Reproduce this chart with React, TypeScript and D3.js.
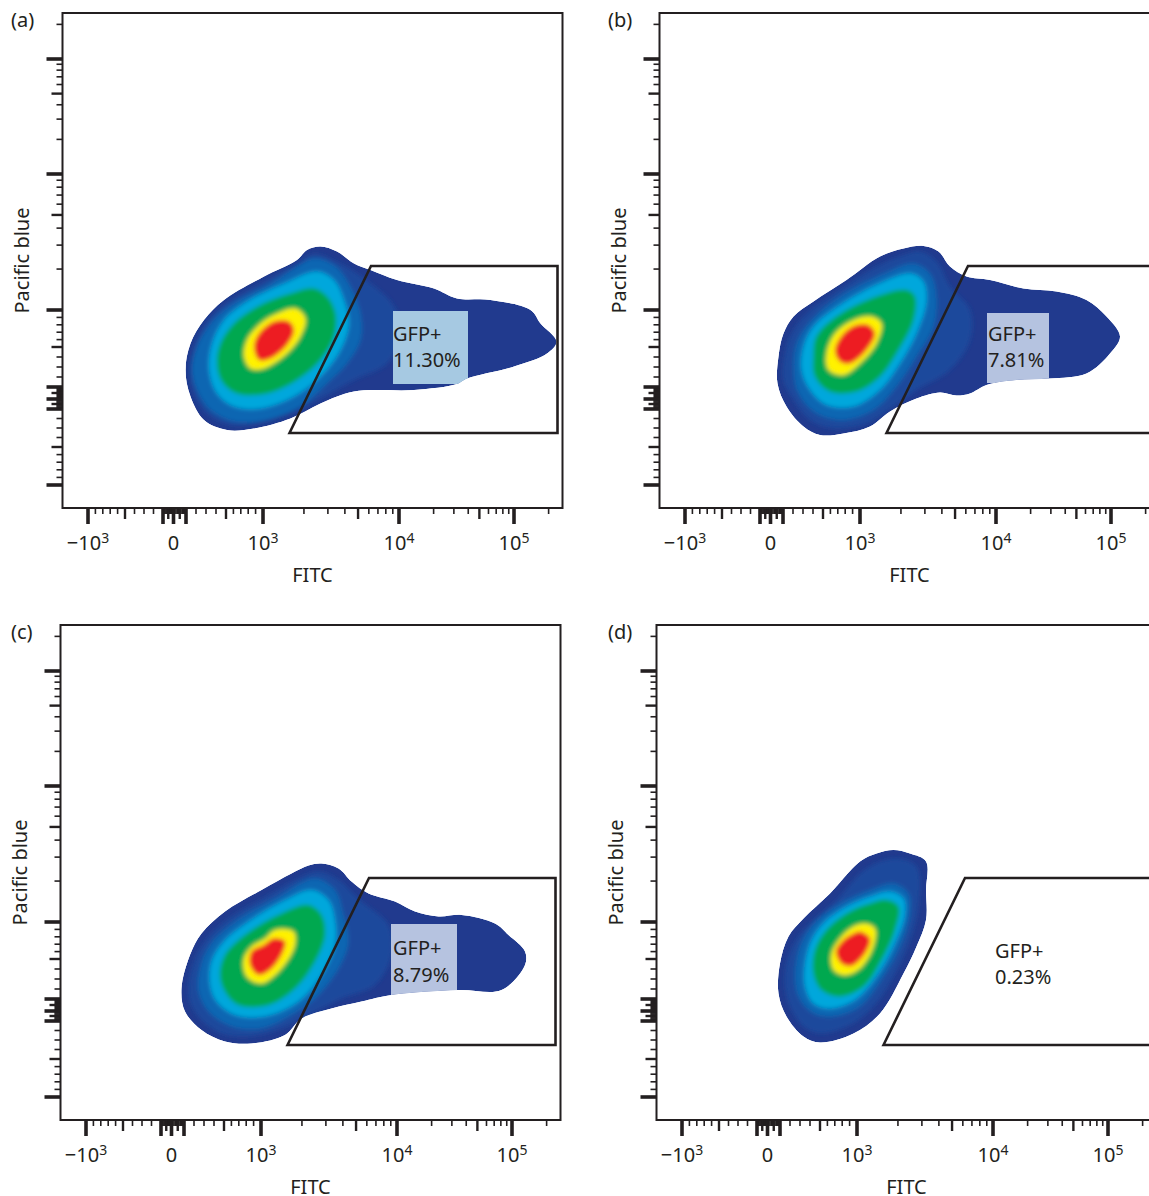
import React, { useEffect, useRef } from 'react';
import * as d3 from 'd3';

type Pt = [number, number];

// Axis ticks, in fluorescence units (same biexponential layout on both axes)
const majorTicks = [-1000, -100, 0, 100, 1000, 10000, 100000];
const mediumTicks = [-500, -50, 50, 500, 5000, 50000];
const minorTicks = [
  -900, -800, -700, -600, -400, -300, -200, -90, -80, -70, -60, -40, -30, -20, -10,
  10, 20, 30, 40, 60, 70, 80, 90, 200, 300, 400, 600, 700, 800, 900,
  2000, 3000, 4000, 6000, 7000, 8000, 9000,
  20000, 30000, 40000, 60000, 70000, 80000, 90000, 200000,
];
const xTickLabels: [number, string, string][] = [
  [-1000, '\u221210', '3'],
  [0, '0', ''],
  [1000, '10', '3'],
  [10000, '10', '4'],
  [100000, '10', '5'],
];

// Where the decades fall on the instrument's display channels (0-1000)
const linearAnchors = [-1000, -500, -100, 0, 100, 500, 1000];
const decadeAnchors = [1000, 10000, 100000];
const xAnchorChannels = [51, 125, 201, 222, 247, 327, 401, 673, 903];
const yAnchorChannels = [46, 122, 198, 218, 242, 322, 396, 668, 898];

// Gate drawn on every plot, display channels
const gate: Pt[] = [[454, 150], [617, 484], [990, 484], [990, 150]];

// Density contours, display channels, outermost first
const aShell: Pt[] = [[516, 523], [549, 513], [583, 489], [616, 476], [669, 456], [743, 439], [789, 419], [856, 416], [936, 396], [956, 369], [988, 333], [969, 309], [903, 283], [809, 259], [789, 248], [703, 236], [583, 233], [516, 209], [456, 179], [383, 159], [329, 156], [283, 176], [256, 223], [246, 276], [256, 329], [283, 376], [323, 416], [403, 463], [469, 496], [489, 516]];
const aHalo: Pt[] = [[503, 508], [556, 489], [616, 449], [663, 403], [676, 343], [649, 289], [583, 256], [516, 219], [456, 189], [389, 169], [336, 166], [289, 189], [263, 229], [254, 276], [264, 326], [289, 373], [329, 411], [409, 456], [469, 489]];
const aBlue: Pt[] = [[503, 499], [543, 486], [576, 443], [596, 389], [596, 336], [569, 289], [529, 249], [476, 203], [409, 176], [343, 173], [296, 196], [269, 236], [259, 276], [269, 323], [296, 369], [336, 406], [416, 449], [469, 483]];
const aCyan: Pt[] = [[509, 473], [543, 456], [563, 416], [573, 369], [556, 316], [516, 263], [463, 223], [396, 199], [343, 203], [309, 229], [293, 276], [299, 329], [323, 376], [369, 413], [443, 449]];
const aGreen: Pt[] = [[503, 439], [529, 423], [546, 389], [543, 343], [516, 296], [469, 256], [409, 229], [349, 229], [319, 253], [309, 289], [316, 329], [343, 369], [396, 406], [456, 429]];
const aYellow: Pt[] = [[466, 399], [486, 379], [476, 343], [449, 309], [403, 279], [376, 279], [363, 303], [369, 336], [396, 369], [429, 389]];
const aRed: Pt[] = [[453, 373], [463, 356], [449, 326], [416, 299], [393, 296], [383, 323], [393, 349], [423, 373]];

const bShell: Pt[] = [[528, 524], [558, 513], [581, 483], [614, 463], [661, 456], [728, 439], [794, 433], [854, 416], [894, 383], [921, 343], [901, 309], [854, 269], [781, 259], [714, 256], [654, 246], [621, 229], [594, 225], [561, 231], [514, 219], [461, 193], [421, 163], [368, 149], [321, 146], [288, 163], [254, 203], [236, 249], [238, 303], [248, 349], [268, 383], [308, 413], [374, 456], [441, 503], [488, 519]];
const bHalo: Pt[] = [[521, 513], [554, 493], [581, 443], [621, 396], [621, 336], [581, 276], [514, 236], [468, 203], [414, 169], [348, 159], [301, 176], [268, 216], [248, 256], [251, 309], [264, 349], [294, 389], [354, 433], [434, 483], [488, 506]];
const bBlue: Pt[] = [[508, 489], [541, 469], [554, 423], [548, 363], [514, 303], [474, 243], [428, 196], [368, 176], [314, 189], [278, 229], [268, 276], [274, 329], [298, 369], [354, 419], [448, 469]];
const bCyan: Pt[] = [[504, 469], [528, 453], [534, 413], [514, 349], [481, 289], [441, 236], [388, 203], [334, 206], [301, 236], [284, 276], [288, 323], [308, 363], [361, 406], [448, 453]];
const bGreen: Pt[] = [[494, 436], [511, 423], [508, 376], [478, 316], [441, 263], [394, 233], [341, 233], [311, 263], [308, 303], [314, 343], [354, 383], [434, 423]];
const bYellow: Pt[] = [[424, 383], [444, 369], [434, 329], [401, 289], [368, 266], [338, 276], [334, 309], [351, 349], [388, 376]];
const bRed: Pt[] = [[418, 366], [431, 349], [414, 316], [381, 289], [361, 293], [351, 316], [368, 349], [394, 366]];

const cShell: Pt[] = [[522, 513], [556, 503], [582, 477], [616, 453], [669, 437], [709, 417], [756, 407], [802, 410], [869, 393], [896, 370], [929, 337], [929, 310], [882, 260], [796, 260], [662, 250], [602, 237], [542, 223], [482, 203], [449, 170], [382, 153], [329, 157], [282, 180], [249, 217], [242, 263], [259, 330], [282, 373], [329, 417], [402, 460], [462, 493], [496, 509]];
const cHalo: Pt[] = [[516, 497], [556, 480], [602, 437], [656, 390], [662, 330], [629, 270], [562, 243], [502, 213], [442, 183], [376, 167], [322, 173], [279, 203], [259, 237], [256, 270], [269, 323], [296, 367], [342, 407], [416, 450], [469, 480]];
const cBlue: Pt[] = [[509, 483], [549, 460], [566, 410], [576, 357], [556, 303], [509, 243], [462, 210], [402, 183], [342, 187], [296, 217], [276, 257], [279, 303], [299, 350], [349, 397], [429, 443]];
const cCyan: Pt[] = [[502, 460], [536, 440], [549, 400], [549, 350], [522, 290], [476, 237], [409, 207], [349, 210], [312, 237], [299, 270], [302, 317], [329, 360], [376, 397], [449, 440]];
const cGreen: Pt[] = [[496, 430], [522, 410], [529, 370], [509, 317], [469, 263], [416, 230], [356, 230], [329, 257], [319, 290], [329, 330], [369, 370], [442, 413]];
const cYellow: Pt[] = [[429, 380], [466, 377], [469, 350], [442, 303], [402, 273], [372, 287], [366, 320], [382, 347], [409, 363]];
const cRed: Pt[] = [[426, 363], [449, 357], [442, 330], [419, 300], [396, 290], [379, 310], [382, 337], [406, 350]];

const dShell: Pt[] = [[474, 540], [507, 533], [539, 517], [539, 460], [539, 400], [520, 347], [494, 293], [447, 213], [394, 173], [327, 155], [294, 167], [260, 207], [244, 253], [247, 313], [264, 367], [294, 403], [347, 453], [407, 517], [440, 533]];
const dHalo: Pt[] = [[477, 523], [520, 507], [524, 427], [507, 360], [474, 287], [434, 227], [387, 190], [327, 173], [294, 187], [267, 227], [257, 267], [260, 313], [277, 357], [307, 393], [360, 440], [420, 503]];
const dBlue: Pt[] = [[474, 473], [504, 453], [507, 413], [490, 353], [454, 287], [407, 227], [354, 207], [314, 213], [284, 247], [277, 293], [287, 347], [314, 393], [367, 433], [427, 460]];
const dCyan: Pt[] = [[467, 457], [494, 443], [497, 410], [477, 353], [440, 287], [397, 240], [347, 223], [314, 233], [297, 267], [297, 313], [310, 360], [337, 397], [380, 427], [427, 447]];
const dGreen: Pt[] = [[460, 440], [484, 427], [477, 380], [450, 320], [414, 267], [367, 247], [330, 260], [314, 293], [317, 340], [340, 380], [387, 417], [427, 433]];
const dYellow: Pt[] = [[417, 393], [437, 383], [434, 347], [407, 303], [377, 290], [354, 300], [350, 333], [370, 367], [394, 387]];
const dRed: Pt[] = [[407, 377], [427, 363], [417, 333], [390, 308], [370, 313], [359, 337], [374, 360], [394, 373]];

// One colour per contour level, low density to high
const levelColors = ['#213a8e', '#1c4a9c', '#0b66b2', '#02a7dc', '#00a84f', '#fff200', '#ed1c24'];

const panels = [
  { letter: '(a)', left: 62.5, top: 13, contours: [aShell, aHalo, aBlue, aCyan, aGreen, aYellow, aRed], gatePct: '11.30%', boxColor: '#a6c9e2', box: [661, 811, 248, 394], textX: 661, textY: [334, 282] },
  { letter: '(b)', left: 659.5, top: 13, contours: [bShell, bHalo, bBlue, bCyan, bGreen, bYellow, bRed], gatePct: '7.81%', boxColor: '#b5c3e0', box: [655, 779, 250, 390], textX: 657, textY: [334, 282] },
  { letter: '(c)', left: 60.5, top: 625, contours: [cShell, cHalo, cBlue, cCyan, cGreen, cYellow, cRed], gatePct: '8.79%', boxColor: '#b6c3e0', box: [661, 793, 250, 392], textX: 665, textY: [330, 276] },
  { letter: '(d)', left: 656.5, top: 625, contours: [dShell, dHalo, dBlue, dCyan, dGreen, dYellow, dRed], gatePct: '0.23%', boxColor: null, box: null, textX: 677, textY: [324, 272] },
];

const width = 1149;
const height = 1196;
const plotWidth = 500;
const plotHeight = 495;
const ink = '#231f20';
const fontFamily = '"Noto Sans", sans-serif';
const fontSize = 20;

// Linear around zero, log above 10^3
function biexponential(channels: number[]) {
  const lin = d3.scaleLinear().domain(linearAnchors).range(channels.slice(0, 7));
  const log = d3.scaleLog().domain(decadeAnchors).range(channels.slice(6));
  return (v: number) => (v <= 1000 ? lin(v) : log(v));
}

function App() {
  const ref = useRef<SVGSVGElement>(null);

  useEffect(() => {
    const svg = d3.select(ref.current);
    svg.selectAll('*').remove();

    const xChannel = d3.scaleLinear().domain([0, 1000]).range([0, plotWidth]);
    const yChannel = d3.scaleLinear().domain([0, 990]).range([plotHeight, 0]);
    const xValue = biexponential(xAnchorChannels);
    const yValue = biexponential(yAnchorChannels);

    const contour = d3
      .line<Pt>()
      .x((d) => xChannel(d[0]))
      .y((d) => yChannel(d[1]))
      .curve(d3.curveCatmullRomClosed.alpha(0.5));

    const defs = svg.append('defs');
    defs
      .append('filter')
      .attr('id', 'soften')
      .attr('x', '-10%')
      .attr('y', '-10%')
      .attr('width', '120%')
      .attr('height', '120%')
      .append('feGaussianBlur')
      .attr('stdDeviation', 2.2);

    const tickStyles = [
      { values: minorTicks, length: 6, thick: 1.6 },
      { values: mediumTicks, length: 11, thick: 2.4 },
      { values: majorTicks, length: 16, thick: 3.6 },
    ];

    panels.forEach((p, i) => {
      const g = svg.append('g').attr('transform', `translate(${p.left},${p.top})`);

      // density
      const clipId = `outline-${i}`;
      defs.append('clipPath').attr('id', clipId).append('path').attr('d', contour(p.contours[0]));
      const density = g.append('g').attr('clip-path', `url(#${clipId})`);
      density.append('path').attr('d', contour(p.contours[0])).attr('fill', levelColors[0]);
      density
        .append('g')
        .attr('filter', 'url(#soften)')
        .selectAll('path')
        .data(p.contours.slice(1))
        .enter()
        .append('path')
        .attr('d', (d) => contour(d))
        .attr('fill', (_, k) => levelColors[k + 1]);

      // label box only shows where it overlaps the density
      if (p.box) {
        density
          .append('rect')
          .attr('x', xChannel(p.box[0]))
          .attr('width', xChannel(p.box[1]) - xChannel(p.box[0]))
          .attr('y', yChannel(p.box[3]))
          .attr('height', yChannel(p.box[2]) - yChannel(p.box[3]))
          .attr('fill', p.boxColor);
      }

      // gate
      g.append('polygon')
        .attr('points', gate.map((d) => `${xChannel(d[0])},${yChannel(d[1])}`).join(' '))
        .attr('fill', 'none')
        .attr('stroke', ink)
        .attr('stroke-width', 2.6)
        .attr('stroke-linejoin', 'miter');

      // frame
      g.append('rect')
        .attr('width', plotWidth)
        .attr('height', plotHeight)
        .attr('fill', 'none')
        .attr('stroke', ink)
        .attr('stroke-width', 2);

      // ticks
      tickStyles.forEach((s) => {
        g.selectAll(null)
          .data(s.values)
          .enter()
          .append('line')
          .attr('x1', (d) => xChannel(xValue(d)))
          .attr('x2', (d) => xChannel(xValue(d)))
          .attr('y1', plotHeight)
          .attr('y2', plotHeight + s.length)
          .attr('stroke', ink)
          .attr('stroke-width', s.thick);
        g.selectAll(null)
          .data(s.values)
          .enter()
          .append('line')
          .attr('y1', (d) => yChannel(yValue(d)))
          .attr('y2', (d) => yChannel(yValue(d)))
          .attr('x1', 0)
          .attr('x2', -s.length)
          .attr('stroke', ink)
          .attr('stroke-width', s.thick);
      });

      const text = g
        .append('g')
        .attr('fill', ink)
        .attr('font-family', fontFamily)
        .attr('font-size', fontSize);

      // x tick labels
      const labels = text
        .selectAll('text.tick')
        .data(xTickLabels)
        .enter()
        .append('text')
        .attr('class', 'tick')
        .attr('x', (d) => xChannel(xValue(d[0])))
        .attr('y', plotHeight + 42)
        .attr('text-anchor', 'middle');
      labels.append('tspan').text((d) => d[1]);
      labels
        .append('tspan')
        .attr('dy', -7)
        .attr('font-size', 14)
        .text((d) => d[2]);

      text
        .append('text')
        .attr('x', plotWidth / 2)
        .attr('y', plotHeight + 74)
        .attr('text-anchor', 'middle')
        .text('FITC');

      text
        .append('text')
        .attr('transform', `translate(-34,${plotHeight / 2}) rotate(-90)`)
        .attr('text-anchor', 'middle')
        .text('Pacific blue');

      text
        .append('text')
        .attr('x', (i % 2 ? 608 : 11) - p.left)
        .attr('y', 14)
        .text(p.letter);

      // gate label
      ['GFP+', p.gatePct].forEach((t, k) => {
        text
          .append('text')
          .attr('x', xChannel(p.textX))
          .attr('y', yChannel(p.textY[k]))
          .text(t);
      });
    });
  }, []);

  return (
    <svg
      ref={ref}
      width={width}
      height={height}
      style={{ position: 'absolute', left: 0, top: 0, display: 'block', background: '#fff' }}
    />
  );
}

export default App;
